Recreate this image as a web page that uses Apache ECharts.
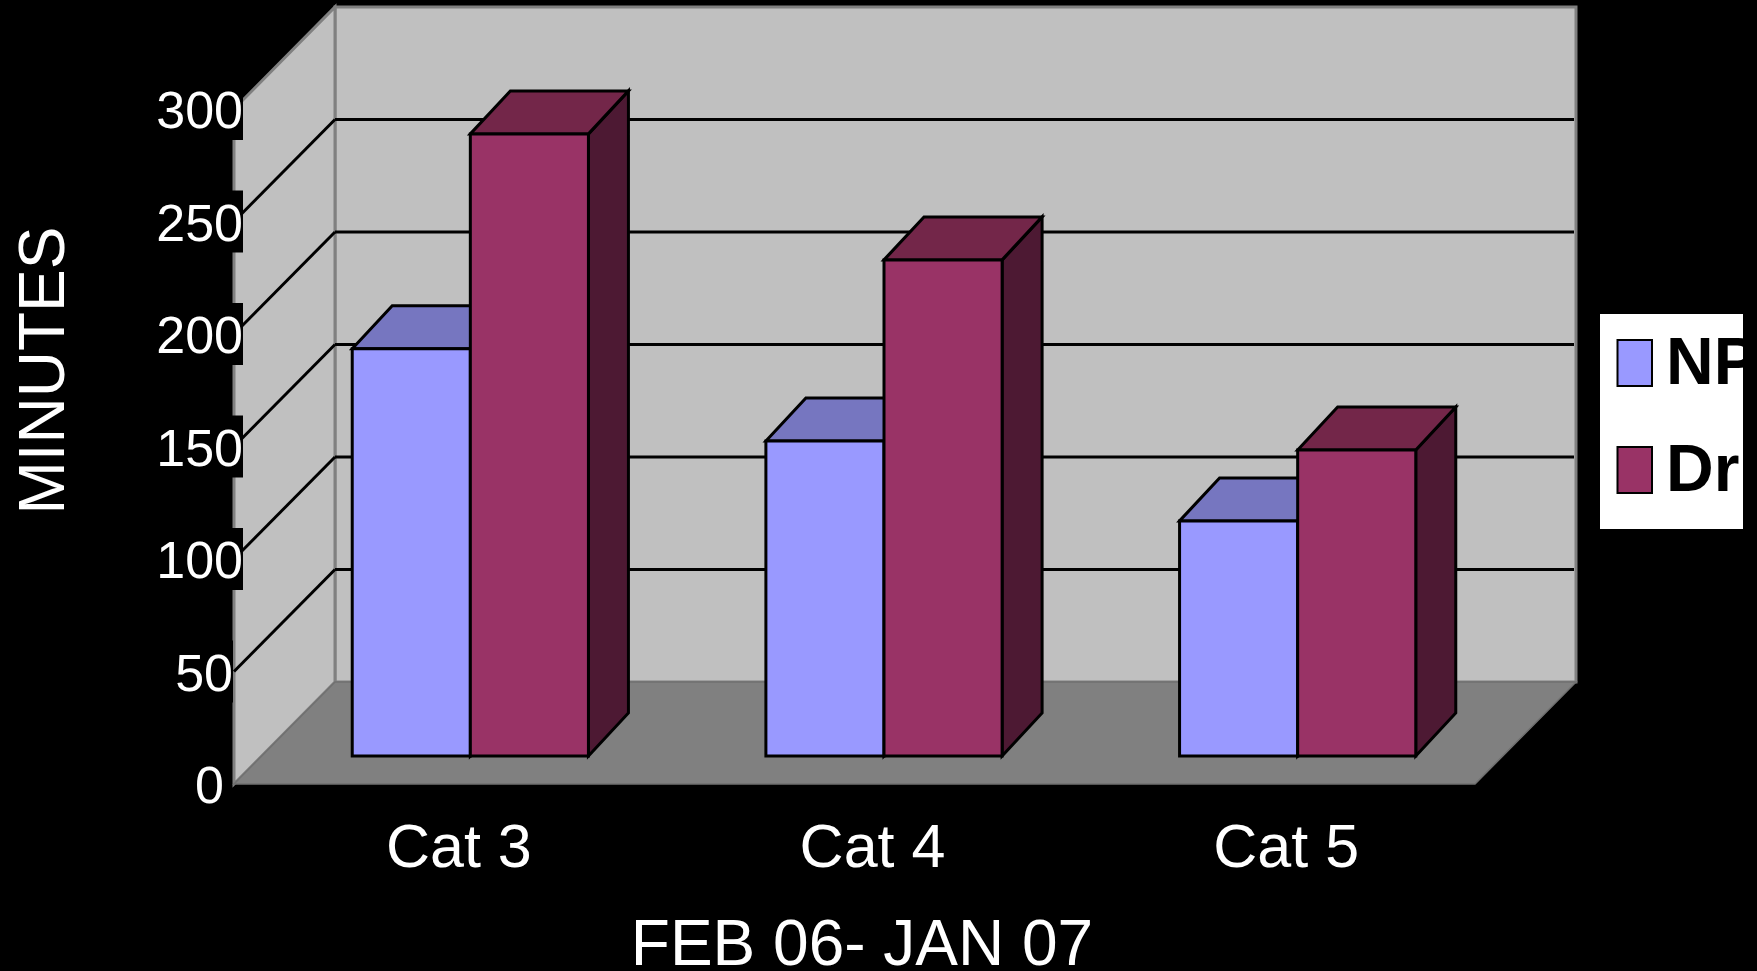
<!DOCTYPE html>
<html><head><meta charset="utf-8">
<style>html,body{margin:0;padding:0;background:#000;overflow:hidden}#c{width:1757px;height:971px}</style>
<script src="https://cdn.jsdelivr.net/npm/echarts@6/dist/echarts.min.js"></script>
</head><body><div id="c"></div>
<script>
const categories = ['Cat 3','Cat 4','Cat 5'];
const npValues = [181, 140, 104.5];
const drValues = [276.5, 220.5, 136];
const yTicks = [0,50,100,150,200,250,300];
const seriesNames = ['NP','Dr'];
const xTitle = 'FEB 06- JAN 07';
const yTitle = 'MINUTES';

const FONT = '"Liberation Sans", Arial, sans-serif';
const WALL_DX = 101, WALL_DY = 102;     // depth of the chamber
const BAR_DX = 40, BAR_DY = 43;         // depth of a bar
const BAR_SHIFT_X = 29.5, BAR_SHIFT_Y = 28; // bars stand inside the floor
const BAR_RATIO = 0.2855;

const faces = {
  NP: {front:'#9999FF', top:'#7676C0', side:'#4D4D80'},
  Dr: {front:'#993366', top:'#732649', side:'#4D1933'}
};

function poly(points, fill, stroke, lw) {
  return {type:'polygon', shape:{points}, style:{fill, stroke, lineWidth:lw, lineJoin:'miter'}};
}
function seg(x1,y1,x2,y2,stroke,lw) {
  return {type:'line', shape:{x1,y1,x2,y2}, style:{stroke, lineWidth:lw, fill:null}};
}

function renderChamber(params, api) {
  const band = api.size([1,0])[0];
  const x0 = api.coord([0,0])[0] - band/2;
  const x1 = api.coord([categories.length-1,0])[0] + band/2;
  const y0 = api.coord([0,0])[1];
  const yTop = api.coord([0,yTicks[yTicks.length-1]])[1];
  const bx0 = x0 + WALL_DX, bx1 = x1 + WALL_DX;
  const children = [
    poly([[bx0,yTop-WALL_DY],[bx1,yTop-WALL_DY],[bx1,y0-WALL_DY],[bx0,y0-WALL_DY]], '#C0C0C0', '#808080', 3),
    poly([[x0,y0],[bx0,y0-WALL_DY],[bx0,yTop-WALL_DY],[x0,yTop]], '#C0C0C0', '#808080', 3),
    poly([[x0,y0],[bx0,y0-WALL_DY],[bx1,y0-WALL_DY],[x1,y0]], '#808080', '#707070', 1.5)
  ];
  yTicks.slice(1,-1).forEach(t => {
    const y = api.coord([0,t])[1];
    children.push(seg(x0,y,bx0,y-WALL_DY,'#000',3));
    children.push(seg(bx0,y-WALL_DY,bx1-2,y-WALL_DY,'#000',3));
  });
  return {type:'group', children};
}

function barRenderer(style, slot) {
  return function (params, api) {
    const band = api.size([1,0])[0];
    const w = band * BAR_RATIO;
    const idx = api.value(0);
    const cx = api.coord([idx,0])[0] + BAR_SHIFT_X;
    const base = api.coord([idx,0])[1] - BAR_SHIFT_Y;
    const top = api.coord([idx,api.value(1)])[1] - BAR_SHIFT_Y;
    const l = cx + slot*w, r = l + w;
    return {type:'group', children:[
      poly([[r,base],[r+BAR_DX,base-BAR_DY],[r+BAR_DX,top-BAR_DY],[r,top]], style.side, '#000', 3),
      poly([[l,top],[l+BAR_DX,top-BAR_DY],[r+BAR_DX,top-BAR_DY],[r,top]], style.top, '#000', 3),
      poly([[l,base],[r,base],[r,top],[l,top]], style.front, '#000', 3)
    ]};
  };
}

const tickText = {color:'#fff',fontFamily:FONT,fontSize:52,lineHeight:49,backgroundColor:'#000',padding:[10,0,0,0]};
const chart = echarts.init(document.getElementById('c'), null, {renderer:'canvas'});
chart.setOption({
  animation:false,
  backgroundColor:'#000',
  grid:{left:234, right:282, top:109, bottom:187, containLabel:false, outerBoundsMode:'none'},
  xAxis:{
    type:'category', data:categories, z:10,
    axisLine:{show:false}, axisTick:{show:false}, splitLine:{show:false},
    axisLabel:{color:'#fff', fontFamily:FONT, fontSize:61, margin:36, padding:[0,0,0,36], interval:0},
    name:xTitle, nameLocation:'middle', nameGap:131,
    nameTextStyle:{color:'#fff', fontFamily:FONT, fontSize:64, padding:[0,0,0,15]}
  },
  yAxis:{
    type:'value', min:0, max:300, interval:50, z:10,
    axisLine:{show:false}, axisTick:{show:false}, splitLine:{show:false},
    axisLabel:{
      margin:-9, fontFamily:FONT,
      formatter:v => {
        const s = String(v);
        return s.length === 3 ? '{t|'+s+'}' : '{t|'+s+'}{s'+s.length+'| }';
      },
      rich:{ t:tickText, s1:{width:19, fontSize:10}, s2:{width:10, fontSize:10} }
    },
    name:yTitle, nameLocation:'middle', nameGap:156, nameRotate:90,
    nameTextStyle:{color:'#fff', fontFamily:FONT, fontSize:64, padding:[0,0,0,152]}
  },
  legend:{
    data:seriesNames, orient:'vertical', left:1600, top:314, icon:'rect',
    padding:[13,20,23,16.5], backgroundColor:'#fff',
    itemWidth:34.5, itemHeight:46, itemGap:35,
    formatter:name => '{a|'+name+'}',
    textStyle:{rich:{a:{color:'#000', fontFamily:FONT, fontSize:66, fontWeight:'bold', lineHeight:49, padding:[6,0,0,9]}}},
    selectedMode:false
  },
  graphic:[{type:'rect', z:100, shape:{x:1743,y:290,width:14,height:300}, style:{fill:'#000'}}],
  series:[
    {type:'custom', silent:true, data:[[0,0]], encode:{x:0,y:1}, renderItem:renderChamber, z:1},
    {type:'custom', name:seriesNames[0], silent:true, data:npValues.map((v,i)=>[i,v]), encode:{x:0,y:1},
      itemStyle:{color:faces.NP.front,borderColor:'#000',borderWidth:3}, renderItem:barRenderer(faces.NP,-1), z:2},
    {type:'custom', name:seriesNames[1], silent:true, data:drValues.map((v,i)=>[i,v]), encode:{x:0,y:1},
      itemStyle:{color:faces.Dr.front,borderColor:'#000',borderWidth:3}, renderItem:barRenderer(faces.Dr,0), z:3}
  ]
});
</script></body></html>
